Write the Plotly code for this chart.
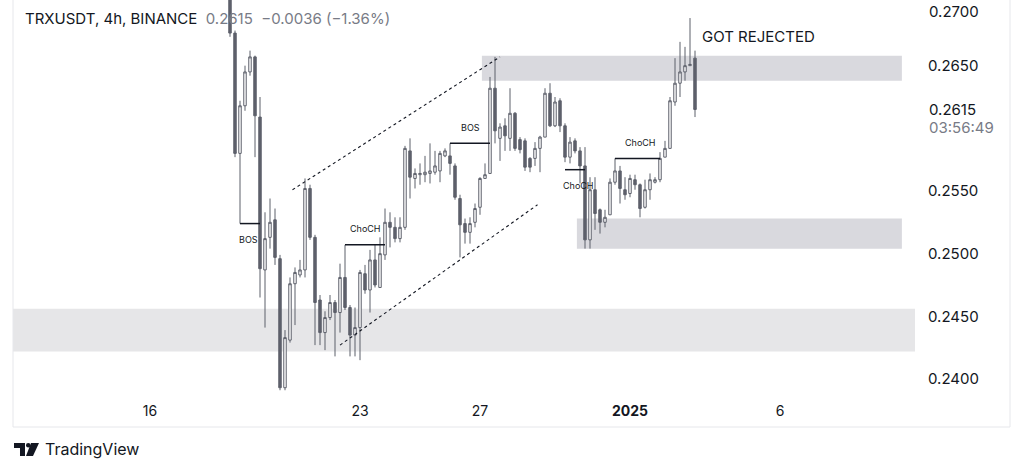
import plotly.graph_objects as go
import pandas as pd

# TRXUSDT 4h candles, first visible bar 18 Dec 2024 16:00
start_time = "2024-12-18 16:00"
opens = [0.2720, 0.2676, 0.2580, 0.2618, 0.2645, 0.2657, 0.2609, 0.2487, 0.2513, 0.2527,
         0.2496, 0.2393, 0.2431, 0.2476, 0.2483, 0.2487, 0.2552, 0.2513, 0.2463, 0.2437,
         0.2449, 0.2461, 0.2453, 0.2481, 0.2457, 0.2435, 0.2441, 0.2484, 0.2471, 0.2495,
         0.2473, 0.2499, 0.2525, 0.2521, 0.2512, 0.2521, 0.2582, 0.2560, 0.2563, 0.2563,
         0.2564, 0.2565, 0.2566, 0.2578, 0.2578, 0.2570, 0.2544, 0.2524, 0.2517, 0.2525,
         0.2537, 0.2560, 0.2564, 0.2632, 0.2592, 0.2602, 0.2592, 0.2612, 0.2591, 0.2590,
         0.2576, 0.2576, 0.2584, 0.2593, 0.2628, 0.2602, 0.2622, 0.2602, 0.2577, 0.2590,
         0.2582, 0.2570, 0.2511, 0.2551, 0.2535, 0.2525, 0.2531, 0.2557, 0.2566, 0.2551,
         0.2548, 0.2559, 0.2555, 0.2537, 0.2551, 0.2557, 0.2559, 0.2577, 0.2584, 0.2621,
         0.2636, 0.2645, 0.2650, 0.2656]
highs = [0.2728, 0.2678, 0.2622, 0.2650, 0.2662, 0.2658, 0.2625, 0.2533, 0.2544, 0.2536,
         0.2499, 0.2439, 0.2481, 0.2489, 0.2495, 0.2560, 0.2555, 0.2515, 0.2467, 0.2454,
         0.2467, 0.2463, 0.2492, 0.2507, 0.2459, 0.2457, 0.2487, 0.2491, 0.2503, 0.2507,
         0.2513, 0.2536, 0.2533, 0.2529, 0.2529, 0.2586, 0.2592, 0.2568, 0.2572, 0.2578,
         0.2588, 0.2582, 0.2582, 0.2584, 0.2588, 0.2572, 0.2547, 0.2528, 0.2529, 0.2540,
         0.2561, 0.2572, 0.2641, 0.2657, 0.2604, 0.2608, 0.2632, 0.2613, 0.2593, 0.2592,
         0.2577, 0.2589, 0.2594, 0.2632, 0.2636, 0.2625, 0.2624, 0.2604, 0.2593, 0.2592,
         0.2585, 0.2585, 0.2561, 0.2561, 0.2536, 0.2535, 0.2560, 0.2576, 0.2570, 0.2561,
         0.2563, 0.2563, 0.2556, 0.2559, 0.2564, 0.2561, 0.2581, 0.2590, 0.2625, 0.2656,
         0.2669, 0.2665, 0.2688, 0.2662]
lows = [0.2673, 0.2577, 0.2524, 0.2614, 0.2642, 0.2577, 0.2465, 0.2441, 0.2504, 0.2491,
        0.2391, 0.2391, 0.2429, 0.2443, 0.2481, 0.2481, 0.2511, 0.2427, 0.2427, 0.2423,
        0.2447, 0.2418, 0.2437, 0.2455, 0.2418, 0.2418, 0.2415, 0.2468, 0.2453, 0.2473,
        0.2473, 0.2495, 0.2505, 0.2509, 0.2509, 0.2519, 0.2544, 0.2552, 0.2555, 0.2557,
        0.2556, 0.2563, 0.2557, 0.2577, 0.2563, 0.2543, 0.2497, 0.2508, 0.2508, 0.2521,
        0.2531, 0.2560, 0.2564, 0.2588, 0.2574, 0.2582, 0.2582, 0.2582, 0.2580, 0.2566,
        0.2565, 0.2570, 0.2565, 0.2593, 0.2601, 0.2601, 0.2597, 0.2573, 0.2572, 0.2580,
        0.2556, 0.2504, 0.2504, 0.2519, 0.2516, 0.2521, 0.2531, 0.2555, 0.2540, 0.2543,
        0.2545, 0.2551, 0.2529, 0.2536, 0.2543, 0.2556, 0.2557, 0.2577, 0.2584, 0.2618,
        0.2625, 0.2638, 0.2650, 0.2609]
closes = [0.2676, 0.2580, 0.2618, 0.2645, 0.2657, 0.2610, 0.2488, 0.2512, 0.2525, 0.2497,
          0.2393, 0.2433, 0.2476, 0.2485, 0.2487, 0.2552, 0.2513, 0.2461, 0.2437, 0.2449,
          0.2461, 0.2453, 0.2481, 0.2457, 0.2435, 0.2441, 0.2485, 0.2471, 0.2495, 0.2475,
          0.2500, 0.2525, 0.2521, 0.2512, 0.2521, 0.2584, 0.2561, 0.2564, 0.2564, 0.2565,
          0.2566, 0.2570, 0.2580, 0.2582, 0.2572, 0.2545, 0.2523, 0.2517, 0.2524, 0.2536,
          0.2560, 0.2563, 0.2632, 0.2598, 0.2601, 0.2594, 0.2612, 0.2584, 0.2583, 0.2569,
          0.2569, 0.2584, 0.2593, 0.2628, 0.2602, 0.2621, 0.2602, 0.2577, 0.2589, 0.2582,
          0.2570, 0.2511, 0.2551, 0.2532, 0.2525, 0.2529, 0.2557, 0.2566, 0.2552, 0.2547,
          0.2560, 0.2555, 0.2536, 0.2551, 0.2559, 0.2559, 0.2576, 0.2584, 0.2622, 0.2636,
          0.2645, 0.2650, 0.2651, 0.2615]

times = pd.date_range(start_time, periods=len(opens), freq="4h")

# supply / demand zones: (start, end, bottom, top)
zones = [
    ("2024-12-27 01:30", "2025-01-10 01:30", 0.2638, 0.2658),
    ("2024-12-30 05:30", "2025-01-10 01:30", 0.2504, 0.2528),
]
zone_full = (0.2422, 0.2456)

# structure breaks: (label, level, from, to, label_x, label_y)
structure = [
    ("BOS", 0.2524, "2024-12-19 00:00", "2024-12-19 16:00", "2024-12-19 06:30", 0.2511),
    ("ChoCH", 0.2507, "2024-12-22 12:00", "2024-12-23 20:00", "2024-12-23 04:30", 0.2520),
    ("BOS", 0.2588, "2024-12-26 00:00", "2024-12-27 08:00", "2024-12-26 16:00", 0.2601),
    ("ChoCH", 0.2567, "2024-12-29 20:00", "2024-12-30 12:00", "2024-12-30 06:30", 0.2554),
    ("ChoCH", 0.2576, "2024-12-31 12:00", "2025-01-02 00:00", "2025-01-01 08:00", 0.2589),
]

# channel (dotted)
channel_upper_x = ["2024-12-20 18:00", "2024-12-27 16:00"]
channel_upper_y = [0.2551, 0.2657]
channel_lower_x = ["2024-12-22 08:00", "2024-12-28 22:00"]
channel_lower_y = [0.2427, 0.2539]

price_ticks = [0.2400, 0.2450, 0.2500, 0.2550, 0.2650]
top_tick = 0.2700
date_ticks = ["2024-12-16", "2024-12-23", "2024-12-27", "2025-01-01", "2025-01-06"]
date_labels = ["16", "23", "27", "<b>2025</b>", "6"]

last_price = 0.2615
countdown = "03:56:49"

DARK = "#131722"
GREY = "#787b86"
CANDLE = "#5d606b"
FONT = "Inter"

# pixel helpers for things drawn outside the plot area
PL, PR, PB = 13, 915, 395


def px(x):
    return (x - PL) / (PR - PL)


def py(y):
    return (PB - y) / PB


fig = go.Figure()

fig.add_trace(go.Candlestick(
    x=times, open=opens, high=highs, low=lows, close=closes,
    increasing=dict(line=dict(color=CANDLE, width=1), fillcolor="#ffffff"),
    decreasing=dict(line=dict(color=CANDLE, width=1), fillcolor=CANDLE),
    whiskerwidth=0, showlegend=False, hoverinfo="skip",
))

for cx, cy in [(channel_upper_x, channel_upper_y), (channel_lower_x, channel_lower_y)]:
    fig.add_trace(go.Scatter(
        x=cx, y=cy, mode="lines",
        line=dict(color=DARK, width=1.1, dash="dot"),
        showlegend=False, hoverinfo="skip",
    ))

for x0, x1, y0, y1 in zones:
    fig.add_shape(type="rect", xref="x", yref="y", x0=x0, x1=x1, y0=y0, y1=y1,
                  fillcolor="#d9d9de", line_width=0, layer="below")
fig.add_shape(type="rect", xref="paper", yref="y", x0=0, x1=1,
              y0=zone_full[0], y1=zone_full[1],
              fillcolor="#e6e6e8", line_width=0, layer="below")

for label, level, x0, x1, lx, ly in structure:
    fig.add_shape(type="line", xref="x", yref="y", x0=x0, x1=x1, y0=level, y1=level,
                  line=dict(color=DARK, width=1.5))
    fig.add_annotation(x=lx, y=ly, text=label, showarrow=False, yanchor="middle",
                       font=dict(family=FONT, size=9, color=DARK))

fig.add_annotation(x="2025-01-03 08:00", y=0.2673, text="GOT REJECTED", showarrow=False,
                   xanchor="left", yanchor="middle",
                   font=dict(family=FONT, size=15, color=DARK))

# header
fig.add_annotation(xref="paper", yref="paper", x=px(23), y=py(18),
                   xanchor="left", yanchor="middle",
                   text="TRXUSDT, 4h, BINANCE  <span style='color:#787b86'>0.2615  \u22120.0036 (\u22121.36%)</span>",
                   showarrow=False, font=dict(family=FONT, size=15, color=DARK))

# price scale extras: top label (kept just inside the frame), last price, countdown
fig.add_annotation(xref="paper", yref="paper", x=px(927), y=1, xanchor="left",
                   yanchor="top", text=f"{top_tick:.4f}", showarrow=False,
                   font=dict(family=FONT, size=15, color=DARK))
fig.add_annotation(xref="paper", yref="y", x=px(927), y=last_price, xanchor="left",
                   yanchor="middle", text=f"{last_price:.4f}", showarrow=False,
                   font=dict(family=FONT, size=15, color=DARK))
fig.add_annotation(xref="paper", yref="paper", x=px(927), y=py(128), xanchor="left",
                   yanchor="middle", text=countdown, showarrow=False,
                   font=dict(family=FONT, size=15, color=GREY))

# outer frame
for xa, ya, xb, yb in [(13, 0, 13, 427), (13, 427, 1010, 427), (1010, 0, 1010, 427)]:
    fig.add_shape(type="line", xref="paper", yref="paper",
                  x0=px(xa), y0=py(ya), x1=px(xb), y1=py(yb),
                  line=dict(color="#e6e7eb", width=1))

# TradingView logo + name
logo_paths = [
    [(14, 443), (25, 443), (25, 456), (20, 456), (20, 448), (14, 448)],
    [(31, 443), (39, 443), (33, 456), (26, 456)],
]
for pts in logo_paths:
    path = "M " + " L ".join(f"{px(a):.5f},{py(b):.5f}" for a, b in pts) + " Z"
    fig.add_shape(type="path", xref="paper", yref="paper", path=path,
                  fillcolor=DARK, line_width=0)
fig.add_shape(type="circle", xref="paper", yref="paper",
              x0=px(26), x1=px(30.5), y0=py(447.5), y1=py(443),
              fillcolor=DARK, line_width=0)
fig.add_annotation(xref="paper", yref="paper", x=px(43), y=py(449),
                   xanchor="left", yanchor="middle",
                   text="TradingView", showarrow=False,
                   font=dict(family=FONT, size=16, color=DARK))

fig.update_layout(
    width=1024, height=473,
    margin=dict(l=PL, r=1024 - PR, t=0, b=473 - PB),
    plot_bgcolor="#ffffff", paper_bgcolor="#ffffff",
    showlegend=False,
    xaxis=dict(
        range=["2024-12-11 10:24", "2025-01-10 12:00"],
        rangeslider=dict(visible=False),
        showgrid=False, zeroline=False, showline=False,
        tickvals=date_ticks, ticktext=date_labels,
        tickfont=dict(family=FONT, size=14, color=DARK),
        ticks="", ticklabelstandoff=6,
    ),
    yaxis=dict(
        range=[0.23872, 0.27024],
        side="right",
        showgrid=False, zeroline=False, showline=False,
        tickvals=price_ticks, ticktext=[f"{v:.4f}" for v in price_ticks],
        tickfont=dict(family=FONT, size=15, color=DARK),
        ticks="", ticklabelstandoff=12,
    ),
)

fig.write_html("out.html", config={"displayModeBar": False},
               post_script="document.body.style.margin='0';")
